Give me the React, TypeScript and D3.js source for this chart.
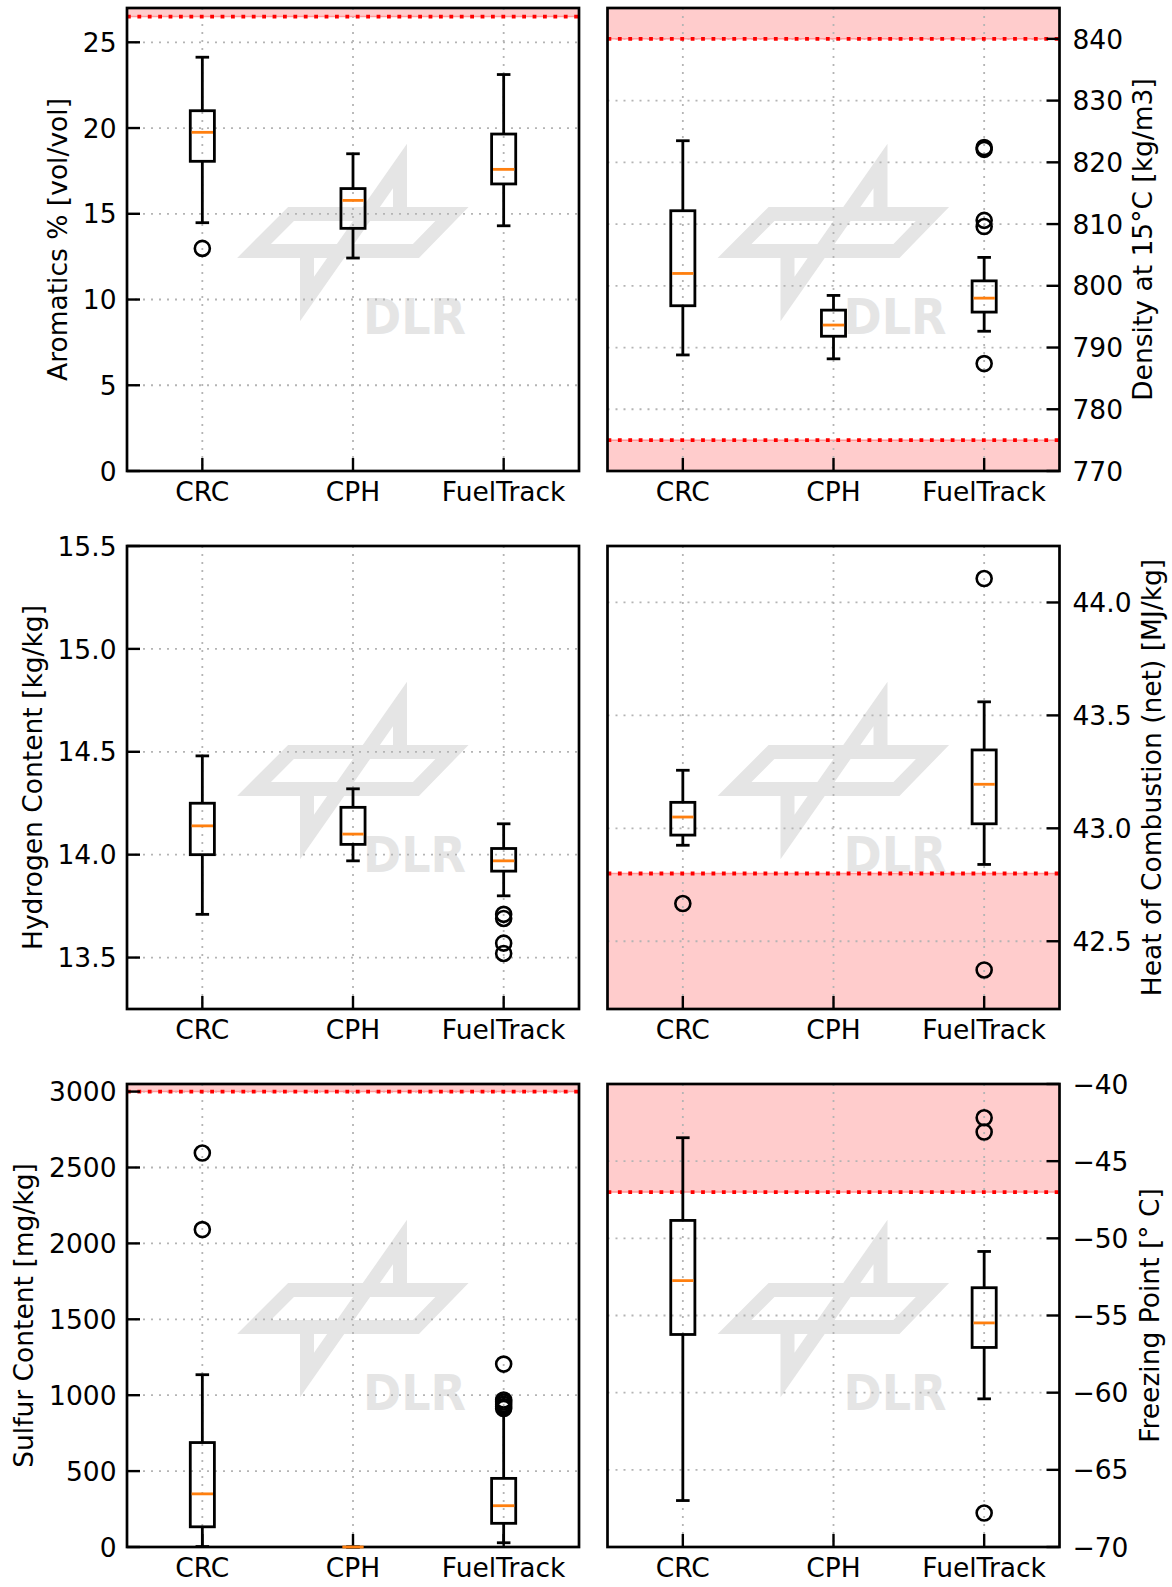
import React from "react";
import * as d3 from "d3";

const categories = ["CRC", "CPH", "FuelTrack"];

// Box statistics per category: [lower whisker, Q1, median, Q3, upper whisker]
const aromaticsBoxes = [
  [14.48, 18.06, 19.75, 21.01, 24.13],
  [12.42, 14.15, 15.78, 16.47, 18.5],
  [14.3, 16.74, 17.59, 19.65, 23.12],
];
const aromaticsOutliers = [[12.98], [], []];
const aromaticsTicks = [0, 5, 10, 15, 20, 25];

const densityBoxes = [
  [788.8, 796.77, 802.0, 812.16, 823.5],
  [788.17, 791.83, 793.64, 796.06, 798.44],
  [792.64, 795.74, 798.0, 800.8, 804.6],
];
const densityOutliers = [[], [], [822.1, 822.4, 810.6, 809.6, 787.4]];
const densityTicks = [770, 780, 790, 800, 810, 820, 830, 840];

const hydrogenBoxes = [
  [13.71, 14.0, 14.14, 14.25, 14.48],
  [13.97, 14.05, 14.1, 14.23, 14.32],
  [13.8, 13.92, 13.97, 14.03, 14.15],
];
const hydrogenOutliers = [[], [], [13.71, 13.69, 13.57, 13.52]];
const hydrogenTicks = [13.5, 14.0, 14.5, 15.0, 15.5];

const heatBoxes = [
  [42.925, 42.97, 43.05, 43.115, 43.257],
  null,
  [42.84, 43.02, 43.195, 43.347, 43.56],
];
const heatOutliers = [[42.667], [], [44.106, 42.373]];
const heatTicks = [42.5, 43.0, 43.5, 44.0];

const sulfurBoxes = [
  [3, 133, 350, 688, 1135],
  [0, 0, 0, 0, 0],
  [28, 156, 272, 452, 890],
];
const sulfurOutliers = [[2595, 2091], [], [1205, 968, 955, 940, 925, 912]];
const sulfurTicks = [0, 500, 1000, 1500, 2000, 2500, 3000];

const freezingBoxes = [
  [-66.99, -56.23, -52.74, -48.84, -43.48],
  null,
  [-60.4, -57.07, -55.48, -53.2, -50.85],
];
const freezingOutliers = [[], [], [-42.19, -43.11, -67.8]];
const freezingTicks = [-70, -65, -60, -55, -50, -45, -40];

type Panel = {
  label: string;
  domain: [number, number];
  ticks: number[];
  fmt: (v: number) => string;
  boxes: (number[] | null)[];
  outliers: number[][];
  limitBelow?: number; // shaded region below this value
  limitAbove?: number; // shaded region above this value
  col: number;
  row: number;
  labelOffset: number;
};

const fInt = d3.format("d");
const fOne = d3.format(".1f");

const panels: Panel[] = [
  { label: "Aromatics % [vol/vol]", domain: [0, 27], ticks: aromaticsTicks, fmt: fInt,
    boxes: aromaticsBoxes, outliers: aromaticsOutliers, limitAbove: 26.5, col: 0, row: 0, labelOffset: 60 },
  { label: "Density at 15°C [kg/m3]", domain: [770, 845], ticks: densityTicks, fmt: fInt,
    boxes: densityBoxes, outliers: densityOutliers, limitAbove: 840, limitBelow: 775, col: 1, row: 0, labelOffset: 92 },
  { label: "Hydrogen Content [kg/kg]", domain: [13.25, 15.5], ticks: hydrogenTicks, fmt: fOne,
    boxes: hydrogenBoxes, outliers: hydrogenOutliers, col: 0, row: 1, labelOffset: 85 },
  { label: "Heat of Combustion (net) [MJ/kg]", domain: [42.2, 44.25], ticks: heatTicks, fmt: fOne,
    boxes: heatBoxes, outliers: heatOutliers, limitBelow: 42.8, col: 1, row: 1, labelOffset: 101 },
  { label: "Sulfur Content [mg/kg]", domain: [0, 3050], ticks: sulfurTicks, fmt: fInt,
    boxes: sulfurBoxes, outliers: sulfurOutliers, limitAbove: 3000, col: 0, row: 2, labelOffset: 94.5 },
  { label: "Freezing Point [° C]", domain: [-70, -40], ticks: freezingTicks, fmt: fInt,
    boxes: freezingBoxes, outliers: freezingOutliers, limitAbove: -47, col: 1, row: 2, labelOffset: 99 },
];

const W = 1172;
const H = 1587;
const colX = [127, 607.5];
const rowY = [8, 546, 1084];
const PW = 452;
const PH = 463;

const FONT = "'DejaVu Sans', sans-serif";
const FS = 26.5;
const GRID = "#b4b4b4";
const ORANGE = "#ff7f0e";
const SHADE = "#ffcccc";
const WATER = "#e5e5e5";

function Watermark({ x0, y0 }: { x0: number; y0: number }) {
  // stylised aircraft logo, in coordinates relative to the axes corner
  const wing = [[164, 206], [325, 206], [289, 243], [127, 243]];
  const body = [[273, 206], [273, 158], [180, 291], [180, 243]];
  const line = d3.line();
  return (
    <g transform={`translate(${x0},${y0})`}>
      <path d={line(wing as [number, number][]) + "Z"} fill="none" stroke={WATER} strokeWidth={14} strokeLinejoin="miter" strokeMiterlimit={6} />
      <path d={line(body as [number, number][]) || ""} fill="none" stroke={WATER} strokeWidth={14} strokeLinejoin="miter" strokeMiterlimit={6} />
      <text x={236} y={326} fontFamily={FONT} fontWeight="bold" fontSize={50} fill={WATER} textLength={103} lengthAdjust="spacingAndGlyphs">DLR</text>
    </g>
  );
}

function BoxPanel({ p }: { p: Panel }) {
  const left = colX[p.col];
  const top = rowY[p.row];
  const x = d3.scaleLinear().domain([0.5, 3.5]).range([left, left + PW]);
  const y = d3.scaleLinear().domain(p.domain).range([top + PH, top]);
  const bw = 0.16;
  const cw = 0.09;
  const right = p.col === 1;
  const tickLen = 13;
  const axisX = right ? left + PW : left;
  const labelX = right ? left + PW + p.labelOffset : left - p.labelOffset;
  const midY = top + PH / 2;

  return (
    <g>
      {p.limitAbove !== undefined && (
        <rect x={left} y={top} width={PW} height={y(p.limitAbove) - top} fill={SHADE} />
      )}
      {p.limitBelow !== undefined && (
        <rect x={left} y={y(p.limitBelow)} width={PW} height={top + PH - y(p.limitBelow)} fill={SHADE} />
      )}
      <Watermark x0={left} y0={top} />
      {/* grid */}
      {p.ticks.map((t) => (
        <line key={"gy" + t} x1={left} x2={left + PW} y1={y(t)} y2={y(t)} stroke={GRID} strokeWidth={1.8} strokeDasharray="2 6" />
      ))}
      {categories.map((c, i) => (
        <line key={"gx" + c} x1={x(i + 1)} x2={x(i + 1)} y1={top} y2={top + PH} stroke={GRID} strokeWidth={1.8} strokeDasharray="2 6" />
      ))}
      {/* specification limits */}
      {[p.limitAbove, p.limitBelow].filter((v) => v !== undefined).map((v, i) => (
        <g key={"lim" + i}>
          <line x1={left} x2={left + PW} y1={y(v as number)} y2={y(v as number)} stroke="#ff9a9a" strokeWidth={1.5} />
          <line x1={left} x2={left + PW} y1={y(v as number)} y2={y(v as number)} stroke="#ff0000" strokeWidth={3.8} strokeDasharray="3.8 6.6" />
        </g>
      ))}
      {/* spines */}
      <rect x={left} y={top} width={PW} height={PH} fill="none" stroke="#000" strokeWidth={2.7} />
      {/* ticks */}
      {categories.map((c, i) => (
        <line key={"tx" + c} x1={x(i + 1)} x2={x(i + 1)} y1={top + PH} y2={top + PH - tickLen} stroke="#000" strokeWidth={2.4} />
      ))}
      {p.ticks.map((t) => (
        <line key={"ty" + t} x1={axisX} x2={right ? axisX - tickLen : axisX + tickLen} y1={y(t)} y2={y(t)} stroke="#000" strokeWidth={2.4} />
      ))}
      {p.ticks.map((t) => (
        <text key={"tl" + t} x={right ? axisX + 13 : axisX - 10.5} y={y(t) + 0.364 * FS} textAnchor={right ? "start" : "end"} fontFamily={FONT} fontSize={FS} fill="#000">{p.fmt(t)}</text>
      ))}
      {categories.map((c, i) => (
        <text key={"cl" + c} x={x(i + 1)} y={top + PH + 30} textAnchor="middle" fontFamily={FONT} fontSize={FS} fill="#000">{c}</text>
      ))}
      <text transform={`translate(${labelX},${midY}) rotate(-90)`} textAnchor="middle" fontFamily={FONT} fontSize={FS} fill="#000">{p.label}</text>
      {/* boxes */}
      {p.boxes.map((b, i) => {
        if (!b) return null;
        const cx = x(i + 1);
        const hw = (x(1 + bw / 2) - x(1));
        const cap = (x(1 + cw / 2) - x(1));
        const [lo, q1, med, q3, hi] = b;
        return (
          <g key={"b" + i} stroke="#000" strokeWidth={2.8} fill="none">
            <line x1={cx} x2={cx} y1={y(q1)} y2={y(lo)} />
            <line x1={cx} x2={cx} y1={y(q3)} y2={y(hi)} />
            <line x1={cx - cap} x2={cx + cap} y1={y(lo)} y2={y(lo)} />
            <line x1={cx - cap} x2={cx + cap} y1={y(hi)} y2={y(hi)} />
            <rect x={cx - hw} y={y(q3)} width={2 * hw} height={y(q1) - y(q3)} />
            <line x1={cx - hw + 1.4} x2={cx + hw - 1.4} y1={y(med)} y2={y(med)} stroke={ORANGE} strokeWidth={2.8} />
          </g>
        );
      })}
      {p.outliers.map((arr, i) =>
        arr.map((v, j) => (
          <circle key={"o" + i + "-" + j} cx={x(i + 1)} cy={y(v)} r={7.5} fill="none" stroke="#000" strokeWidth={2.6} />
        ))
      )}
    </g>
  );
}

export default function App() {
  return (
    <svg width={W} height={H} viewBox={`0 0 ${W} ${H}`} style={{ position: "absolute", left: 0, top: 0, background: "#fff" }}>
      <rect x={0} y={0} width={W} height={H} fill="#fff" />
      {panels.map((p, i) => (
        <BoxPanel key={i} p={p} />
      ))}
    </svg>
  );
}
